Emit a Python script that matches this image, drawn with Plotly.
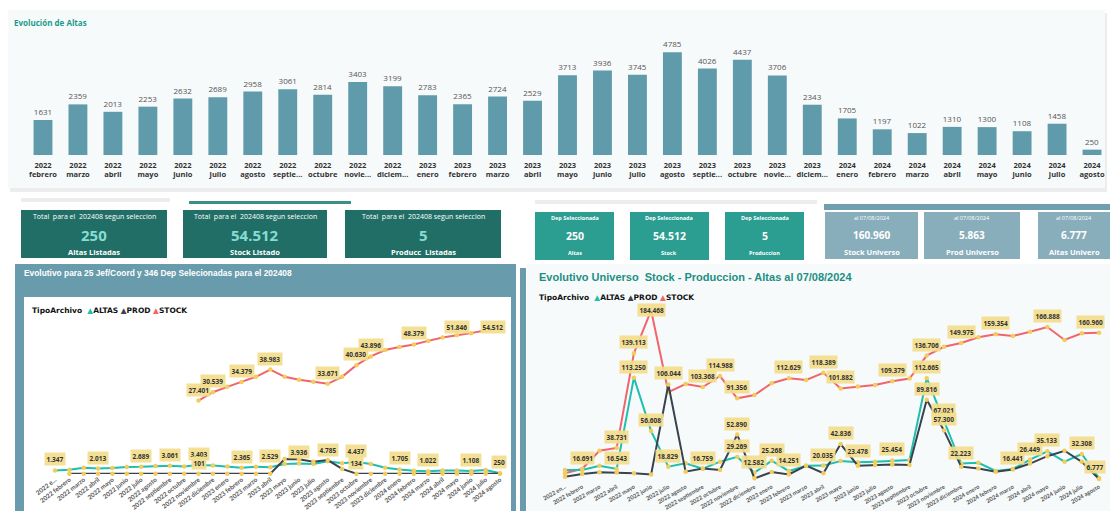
import plotly.graph_objects as go

W, H = 1110, 511

# ---------------- data ----------------
bar_months = ["2022<br>febrero", "2022<br>marzo", "2022<br>abril", "2022<br>mayo", "2022<br>junio",
              "2022<br>julio", "2022<br>agosto", "2022<br>septie...", "2022<br>octubre", "2022<br>novie...",
              "2022<br>diciem...", "2023<br>enero", "2023<br>febrero", "2023<br>marzo", "2023<br>abril",
              "2023<br>mayo", "2023<br>junio", "2023<br>julio", "2023<br>agosto", "2023<br>septie...",
              "2023<br>octubre", "2023<br>novie...", "2023<br>diciem...", "2024<br>enero", "2024<br>febrero",
              "2024<br>marzo", "2024<br>abril", "2024<br>mayo", "2024<br>junio", "2024<br>julio", "2024<br>agosto"]
bar_altas = [1631, 2359, 2013, 2253, 2632, 2689, 2958, 3061, 2814, 3403, 3199,
             2783, 2365, 2724, 2529, 3713, 3936, 3745, 4785, 4026, 4437, 3706, 2343,
             1705, 1197, 1022, 1310, 1300, 1108, 1458, 250]

months_full = ["2022 febrero", "2022 marzo", "2022 abril", "2022 mayo", "2022 junio", "2022 julio",
               "2022 agosto", "2022 septiembre", "2022 octubre", "2022 noviembre", "2022 diciembre",
               "2023 enero", "2023 febrero", "2023 marzo", "2023 abril", "2023 mayo", "2023 junio",
               "2023 julio", "2023 agosto", "2023 septiembre", "2023 octubre", "2023 noviembre",
               "2023 diciembre", "2024 enero", "2024 febrero", "2024 marzo", "2024 abril", "2024 mayo",
               "2024 junio", "2024 julio", "2024 agosto"]
left_months = ["2022 e..."] + months_full
right_months = ["2022 en..."] + months_full

sel_altas = [1347, 1631, 2359, 2013, 2253, 2632, 2689, 2958, 3061, 2814, 3403, 3199,
             2783, 2365, 2724, 2529, 3713, 3936, 3745, 4785, 4026, 4437, 3706, 2343,
             1705, 1197, 1022, 1310, 1300, 1108, 1458, 250]
sel_prod = [None, 98, 99, 97, 101, 100, 98, 99, 102, 100, 101, 97, 99, 98, 100, 96,
            5600, 5500, 4600, 5200, 1900, 134, 102, 99, 97, 100, 98, 99, 101, 98, 100, 97]
sel_stock = [None, None, None, None, None, None, None, None, None, None,
             27401, 30539, 32550, 34379, 36300, 38983, 36300, 35200, 34400, 33671, 36300,
             40630, 43896, 46300, 47400, 48379, 49700, 51000, 51846, 52600, 53700, 54512]
sel_altas_lbl = [0, 3, 6, 8, 10, 13, 15, 17, 19, 21, 24, 26, 29, 31]
sel_prod_lbl = [10, 21]
sel_stock_lbl = [10, 11, 13, 15, 19, 21, 22, 25, 28, 31]

uni_stock = [11900, 16691, 35800, 38731, 139113, 184468, 98000, 106500, 103368, 114988, 91356,
             94900, 107300, 112629, 110800, 118389, 101882, 104000, 105500, 109379, 112300,
             136706, 146000, 149975, 156000, 159354, 157400, 162000, 166888, 153200, 160300, 160960]
uni_altas = [15400, 15400, 19900, 16543, 113250, 56608, 18829, 22400, 16759, 24200, 29269,
             12582, 25268, 14251, 20000, 20035, 24900, 23478, 24200, 25454, 26000,
             112665, 67021, 22223, 23000, 14300, 16441, 26449, 35133, 24200, 32308, 6777]
uni_prod = [8300, 11100, 12900, 12600, 12000, 10600, 106044, 13600, 17000, 15500, 52890,
            6500, 13200, 10600, 20000, 11900, 42836, 20000, 20600, 21300, 20600,
            89816, 57300, 18900, 17000, 13600, 15900, 22200, 30000, 35800, 24000, 5863]
uni_stock_lbl = [1, 3, 4, 5, 8, 9, 10, 13, 15, 16, 19, 21, 23, 25, 28, 31]
uni_altas_lbl = [3, 4, 5, 6, 8, 10, 11, 12, 13, 15, 17, 19, 21, 22, 23, 26, 27, 28, 30, 31]
uni_prod_lbl = [6, 10, 16, 21, 22]

kpi_sel_header = "Total  para el  202408 segun seleccion"
kpi_sel_values = [250, 54512, 5]
kpi_sel_labels = ["Altas Listadas", "Stock Listado", "Producc  Listadas"]
kpi_dep_header = "Dep Seleccionada"
kpi_dep_values = [250, 54512, 5]
kpi_dep_labels = ["Altas", "Stock", "Produccion"]
kpi_uni_header = "al 07/08/2024"
kpi_uni_values = [160960, 5863, 6777]
kpi_uni_labels = ["Stock Universo", "Prod Universo", "Altas Univero"]

# ---------------- styles ----------------
C_ALTAS = "#1dbfae"
C_PROD = "#38434d"
C_STOCK = "#f2646b"
C_MARK = "#f2cd5c"
C_LBL = "rgba(242,221,140,0.92)"
C_BAR = "#609bab"
FONT = "Open Sans, Segoe UI, sans-serif"
TICKFONT = "Lato, Open Sans, sans-serif"


def fmt(v):
    return f"{v:,}".replace(",", ".")


def px_x(p):
    return p / W


def px_y(p):
    return 1 - p / H


shapes = []
annotations = []


def rect(x0, y0, x1, y1, color):
    shapes.append(dict(type="rect", xref="paper", yref="paper", x0=px_x(x0), x1=px_x(x1),
                       y0=px_y(y1), y1=px_y(y0), fillcolor=color, line=dict(width=0), layer="below"))


def text(x, y, s, size, color, weight="normal", family=FONT, xanchor="center"):
    annotations.append(dict(xref="paper", yref="paper", x=px_x(x), y=px_y(y), text=s, showarrow=False,
                            xanchor=xanchor, yanchor="middle",
                            font=dict(size=size, color=color, family=family, weight=weight)))


# ---------------- background panels ----------------
rect(10, 13, 1107, 192, "rgba(0,0,0,0.07)")
rect(8, 10, 1105, 188, "#f7fafa")
rect(21, 198, 170, 202, "rgba(0,0,0,0.07)")
rect(535, 200, 817, 204, "rgba(0,0,0,0.07)")
rect(189, 201, 351, 204, "#3a8f88")
rect(824, 204, 1110, 210, "#6f9fb0")

# KPI cards
for (x0, x1), v, lab in zip([(21, 167), (183, 327), (345, 501)], kpi_sel_values, kpi_sel_labels):
    rect(x0, 210, x1, 258, "#216e66")
    xc = (x0 + x1) / 2
    text(xc, 216, kpi_sel_header, 7, "#ffffff")
    text(xc, 235, fmt(v), 15, "#86ddd1", "bold")
    text(xc, 252.5, lab, 7.5, "#ffffff", "bold")
for (x0, x1), v, lab in zip([(535, 614), (630, 709), (725, 804)], kpi_dep_values, kpi_dep_labels):
    rect(x0, 212, x1, 260, "#2b9d91")
    xc = (x0 + x1) / 2
    text(xc, 218, kpi_dep_header, 5.5, "#ffffff", "bold")
    text(xc, 236, fmt(v), 10.5, "#ffffff", "bold")
    text(xc, 253, lab, 5.5, "#ffffff", "bold")
for (x0, x1), v, lab in zip([(825, 918), (924, 1020), (1038, 1110)], kpi_uni_values, kpi_uni_labels):
    rect(x0, 212, x1, 259, "#89aebb")
    xc = (x0 + x1) / 2
    text(xc, 218, kpi_uni_header, 5.5, "#ffffff")
    text(xc, 234.5, fmt(v), 10, "#ffffff", "bold")
    text(xc, 251.5, lab, 7.5, "#ffffff", "bold")

# bottom panels
rect(15, 264, 516, 511, "#689bac")
rect(24, 297, 511, 511, "#ffffff")
rect(520, 268, 526, 511, "#689bac")
rect(527, 264, 1110, 511, "#f7fafa")

# titles / legends
text(12, 22, "Evolución de Altas", 8, "#1a9a8c", "bold", xanchor="left")
text(22, 273, "Evolutivo para 25 Jef/Coord y 346 Dep Selecionadas para el 202408", 8.4, "#ffffff",
     "bold", family="Liberation Sans, Arial", xanchor="left")
text(537, 277, "Evolutivo Universo  Stock - Produccion - Altas al 07/08/2024", 11, "#1c8f84",
     "bold", family="Liberation Sans, Arial", xanchor="left")
legend_html = ("TipoArchivo  <span style='color:%s'>▲</span>ALTAS <span style='color:%s'>▲</span>PROD "
               "<span style='color:%s'>▲</span>STOCK" % (C_ALTAS, C_PROD, C_STOCK))
text(30, 310, legend_html, 7.5, "#111111", "bold", family="DejaVu Sans", xanchor="left")
text(537, 297.6, legend_html, 7.5, "#111111", "bold", family="DejaVu Sans", xanchor="left")

# ---------------- axes geometry ----------------
BAR_X = (15, 1105)
BAR_Y = (40, 155)
BAR_RANGE = [0, 5360]
L_X = (28, 508)
L_XR = [-1.881, 31.557]
L_Y = (321, 474)
L_RANGE = [0, 57130]
R_X = (545, 1105)
R_XR = [-1.161, 31.348]
R_Y = (303, 484.5)
R_RANGE = [0, 192390]

fig = go.Figure()

fig.add_trace(go.Bar(x=bar_months, y=bar_altas, marker=dict(color=C_BAR, line=dict(width=0)),
                     width=0.54, text=[str(v) for v in bar_altas], textposition="outside",
                     textfont=dict(size=8, color="#555555", family=FONT), cliponaxis=False,
                     xaxis="x", yaxis="y", showlegend=False))


def add_lines(xcat, series, xa, ya):
    for vals, col in series:
        fig.add_trace(go.Scatter(x=xcat, y=vals, mode="lines+markers", xaxis=xa, yaxis=ya,
                                 line=dict(color=col, width=2),
                                 marker=dict(color=C_MARK, size=4.5),
                                 showlegend=False, connectgaps=False, cliponaxis=False))


add_lines(left_months, [(sel_altas, C_ALTAS), (sel_prod, C_PROD), (sel_stock, C_STOCK)], "x2", "y2")
add_lines(right_months, [(uni_stock, C_STOCK), (uni_altas, C_ALTAS), (uni_prod, C_PROD)], "x3", "y3")


def add_labels(xcat, vals, idxs, xa, ya, xgeom, xrange_, ygeom, yrange, min_center, right_edge):
    y0, y1 = ygeom
    for i in idxs:
        v = vals[i]
        s = fmt(v)
        ppy = y1 - v / yrange[1] * (y1 - y0)
        ppx = xgeom[0] + (i - xrange_[0]) / (xrange_[1] - xrange_[0]) * (xgeom[1] - xgeom[0])
        half = len(s) * 2.2 + 3
        xshift = min(0, right_edge - half - ppx)
        yshift = min(11, ppy - min_center)
        annotations.append(dict(x=xcat[i], y=v, xref=xa, yref=ya, text=s, showarrow=False,
                                xshift=xshift, yshift=yshift, bgcolor=C_LBL, borderpad=1.5,
                                font=dict(size=6.5, color="#333333", family=FONT, weight="bold")))


for vals, idxs in [(sel_stock, sel_stock_lbl), (sel_altas, sel_altas_lbl), (sel_prod, sel_prod_lbl)]:
    add_labels(left_months, vals, idxs, "x2", "y2", L_X, L_XR, L_Y, L_RANGE, 327, 509)
for vals, idxs in [(uni_stock, uni_stock_lbl), (uni_altas, uni_altas_lbl), (uni_prod, uni_prod_lbl)]:
    add_labels(right_months, vals, idxs, "x3", "y3", R_X, R_XR, R_Y, R_RANGE, 310, 1109)

xcommon = dict(showgrid=False, zeroline=False, showline=False, ticks="", type="category", automargin=False)
ycommon = dict(showgrid=False, zeroline=False, showline=False, visible=False, automargin=False)

fig.update_layout(
    width=W, height=H, autosize=False,
    margin=dict(l=0, r=0, t=0, b=0, pad=0),
    paper_bgcolor="#ffffff", plot_bgcolor="rgba(0,0,0,0)",
    showlegend=False,
    shapes=shapes, annotations=annotations,
    xaxis=dict(**xcommon, domain=[px_x(BAR_X[0]), px_x(BAR_X[1])], range=[-0.8, 30.371],
               tickangle=0, ticklabelstandoff=4,
               tickfont=dict(size=7.5, color="#333333", family=FONT, weight="bold")),
    yaxis=dict(**ycommon, domain=[px_y(BAR_Y[1]), px_y(BAR_Y[0])], range=BAR_RANGE),
    xaxis2=dict(**xcommon, domain=[px_x(L_X[0]), px_x(L_X[1])], range=L_XR,
                tickangle=-38, anchor="y2",
                tickfont=dict(size=6.3, color="#555555", family=TICKFONT, weight="bold")),
    yaxis2=dict(**ycommon, domain=[px_y(L_Y[1]), px_y(L_Y[0])], range=L_RANGE, anchor="x2"),
    xaxis3=dict(**xcommon, domain=[px_x(R_X[0]), px_x(R_X[1])], range=R_XR,
                tickangle=-30, anchor="y3", ticklabelstandoff=-3,
                tickfont=dict(size=5.8, color="#555555", family=TICKFONT, weight="bold")),
    yaxis3=dict(**ycommon, domain=[px_y(R_Y[1]), px_y(R_Y[0])], range=R_RANGE, anchor="x3"),
)

fig.write_html("out.html", config=dict(displayModeBar=False),
               post_script="document.body.style.margin='0px';document.body.style.overflow='hidden';")
